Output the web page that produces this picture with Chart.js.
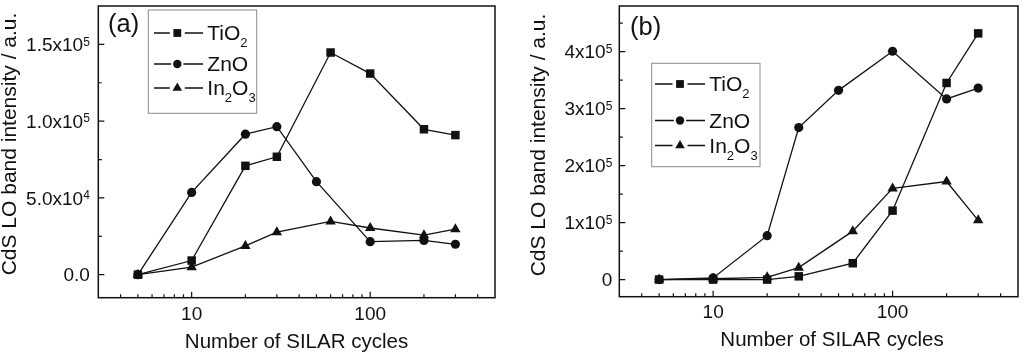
<!DOCTYPE html>
<html>
<head>
<meta charset="utf-8">
<script src="https://cdn.jsdelivr.net/npm/chart.js@4/dist/chart.umd.min.js"></script>
<style>
  html, body { margin: 0; padding: 0; background: #fff; }
  #wrap { position: relative; width: 1024px; height: 353px; }
  .panel { position: absolute; top: 0; width: 512px; height: 353px; }
</style>
</head>
<body>
<div id="wrap">
  <div class="panel" style="left:0"><canvas id="chartA" width="512" height="353"></canvas></div>
  <div class="panel" style="left:512px"><canvas id="chartB" width="512" height="353"></canvas></div>
</div>
<script>
// series names ('_' = subscript next char)
const seriesNames = ['TiO_2', 'ZnO', 'In_2O_3'];
const pointStyles = ['rect', 'circle', 'triangle'];
const pointSizes = [6, 4.6, 6];

// SILAR cycles per series
const cyclesTiO2 = [5, 10, 20, 30, 60, 100, 200, 300];
const cyclesZnO = [5, 10, 20, 30, 50, 100, 200, 300];
const cyclesIn2O3 = [5, 10, 20, 30, 60, 100, 200, 300];

// panel (a)
const aTiO2 = [0, 9200, 70900, 76800, 144700, 131000, 94700, 90900];
const aZnO = [0, 53600, 91500, 96400, 60600, 21500, 22300, 19800];
const aIn2O3 = [0, 4900, 18700, 27700, 34700, 30400, 25700, 29600];

// panel (b)
const bTiO2 = [0, 0, 0, 5700, 28700, 121000, 345000, 432000];
const bZnO = [0, 3000, 77000, 266700, 332000, 400600, 317000, 336000];
const bIn2O3 = [0, 1500, 4000, 21000, 85000, 160000, 172000, 104000];

// ticks ('^' = superscript next char)
const xMajorTicks = [10, 100];
const xTickLabels = ['10', '100'];
const xMinorTicks = [4, 5, 6, 7, 8, 9, 20, 30, 40, 50, 60, 70, 80, 90, 200, 300, 400];

const aYMajor = [0, 50000, 100000, 150000];
const aYLabels = ['0.0', '5.0x10^4', '1.0x10^5', '1.5x10^5'];
const aYMinor = [25000, 75000, 125000];

const bYMajor = [0, 100000, 200000, 300000, 400000];
const bYLabels = ['0', '1x10^5', '2x10^5', '3x10^5', '4x10^5'];
const bYMinor = [50000, 150000, 250000, 350000, 450000];

const xTitle = 'Number of SILAR cycles';
const yTitle = 'CdS LO band intensity / a.u.';

const FONT = "'Liberation Sans', Arial, sans-serif";
const INK = '#111';

function parseRich(str) {
  const parts = [];
  let buf = '';
  for (let i = 0; i < str.length; i++) {
    const c = str[i];
    if (c === '^' || c === '_') {
      if (buf) { parts.push({ t: buf, k: 'n' }); buf = ''; }
      parts.push({ t: str[i + 1], k: c === '^' ? 'sup' : 'sub' });
      i++;
    } else {
      buf += c;
    }
  }
  if (buf) parts.push({ t: buf, k: 'n' });
  return parts;
}

function richText(ctx, str, x, y, size, align) {
  const parts = parseRich(str);
  const small = Math.round(size * 0.63);
  let w = 0;
  parts.forEach(p => {
    ctx.font = (p.k === 'n' ? size : small) + 'px ' + FONT;
    p.w = ctx.measureText(p.t).width;
    w += p.w;
  });
  let cx = align === 'right' ? x - w : align === 'center' ? x - w / 2 : x;
  ctx.textAlign = 'left';
  ctx.textBaseline = 'alphabetic';
  parts.forEach(p => {
    ctx.font = (p.k === 'n' ? size : small) + 'px ' + FONT;
    const dy = p.k === 'sup' ? -size * 0.29 : p.k === 'sub' ? size * 0.34 : 0;
    ctx.fillText(p.t, cx, y + dy);
    cx += p.w;
  });
}

const panelPlugin = {
  id: 'panel',
  afterDraw(chart, args, o) {
    const ctx = chart.ctx;
    const a = chart.chartArea;
    const xs = chart.scales.x, ys = chart.scales.y;
    ctx.save();
    ctx.strokeStyle = INK;
    ctx.fillStyle = INK;

    // frame
    ctx.lineWidth = 1.5;
    ctx.strokeRect(a.left, a.top, a.right - a.left, a.bottom - a.top);

    // inward ticks
    ctx.lineWidth = 1.2;
    ctx.beginPath();
    xMajorTicks.forEach(v => { const p = xs.getPixelForValue(v); ctx.moveTo(p, a.bottom); ctx.lineTo(p, a.bottom - 6); });
    xMinorTicks.forEach(v => { const p = xs.getPixelForValue(v); ctx.moveTo(p, a.bottom); ctx.lineTo(p, a.bottom - 3.5); });
    o.yMajor.forEach(v => { const p = ys.getPixelForValue(v); ctx.moveTo(a.left, p); ctx.lineTo(a.left + 6, p); });
    o.yMinor.forEach(v => { const p = ys.getPixelForValue(v); ctx.moveTo(a.left, p); ctx.lineTo(a.left + 3.5, p); });
    ctx.stroke();

    // tick labels
    xMajorTicks.forEach((v, i) => richText(ctx, xTickLabels[i], xs.getPixelForValue(v), o.xLabelBase, 19, 'center'));
    o.yMajor.forEach((v, i) => richText(ctx, o.yLabels[i], a.left - o.yGap, ys.getPixelForValue(v) + 6.8, 19, 'right'));

    // axis titles
    richText(ctx, xTitle, o.xTitleX, o.xTitleBase, 20.5, 'center');
    ctx.save();
    ctx.translate(o.yTitleX, o.yTitleY);
    ctx.rotate(-Math.PI / 2);
    richText(ctx, yTitle, 0, 0, 21, 'center');
    ctx.restore();

    // panel tag
    richText(ctx, o.tag, o.tagX, o.tagY, 25.5, 'left');

    // legend
    const L = o.legend;
    ctx.strokeStyle = '#8a8a8a';
    ctx.lineWidth = 1;
    ctx.strokeRect(L.box[0], L.box[1], L.box[2] - L.box[0], L.box[3] - L.box[1]);
    ctx.strokeStyle = INK;
    seriesNames.forEach((name, i) => {
      const y = L.rows[i];
      const gap = pointSizes[i] + 1.5;
      ctx.lineWidth = 1.3;
      ctx.beginPath();
      ctx.moveTo(L.lineX[0], y);
      ctx.lineTo(L.markerX - gap, y);
      ctx.moveTo(L.markerX + gap, y);
      ctx.lineTo(L.lineX[1], y);
      ctx.stroke();
      Chart.helpers.drawPoint(ctx, { pointStyle: pointStyles[i], radius: pointSizes[i] * 0.92, borderWidth: 0, rotation: 0 }, L.markerX, y);
      richText(ctx, name, L.textX, y + 7.3, 21, 'left');
    });
    ctx.restore();
  }
};

function makeDatasets(vals) {
  const xsets = [cyclesTiO2, cyclesZnO, cyclesIn2O3];
  return vals.map((v, i) => ({
    label: seriesNames[i],
    data: xsets[i].map((c, j) => ({ x: c, y: v[j] })),
    borderColor: INK,
    backgroundColor: INK,
    borderWidth: 1.3,
    pointStyle: pointStyles[i],
    pointRadius: pointSizes[i],
    pointBackgroundColor: INK,
    pointBorderWidth: 0,
    tension: 0,
    clip: false
  }));
}

function makeChart(id, vals, yMin, yMax, padding, panelOpts) {
  return new Chart(document.getElementById(id), {
    type: 'line',
    data: { datasets: makeDatasets(vals) },
    options: {
      responsive: false,
      animation: false,
      events: [],
      layout: { padding },
      plugins: { legend: { display: false }, tooltip: { enabled: false }, panel: panelOpts },
      scales: {
        x: { type: 'logarithmic', min: 3, max: 500, display: false },
        y: { type: 'linear', min: yMin, max: yMax, display: false }
      }
    },
    plugins: [panelPlugin]
  });
}

makeChart('chartA', [aTiO2, aZnO, aIn2O3], -15000, 175000,
  { left: 98.3, right: 17, top: 1, bottom: 55.3 },
  {
    yMajor: aYMajor, yMinor: aYMinor, yLabels: aYLabels, yGap: 8.5,
    xLabelBase: 320, xTitleX: 296.5, xTitleBase: 347.7,
    yTitleX: 15.5, yTitleY: 144,
    tag: '(a)', tagX: 108, tagY: 31.5,
    legend: { box: [148.3, 10, 256.7, 113.3], rows: [33, 64, 88], lineX: [154, 203], markerX: 177.3, textX: 207.3 }
  });

makeChart('chartB', [bTiO2, bZnO, bIn2O3], -30000, 480000,
  { left: 107.3, right: 2.3, top: 1, bottom: 56.3 },
  {
    yMajor: bYMajor, yMinor: bYMinor, yLabels: bYLabels, yGap: 7,
    xLabelBase: 318.3, xTitleX: 320, xTitleBase: 346,
    yTitleX: 33.3, yTitleY: 145,
    tag: '(b)', tagX: 118, tagY: 35,
    legend: { box: [139.7, 63.3, 248, 166.7], rows: [84, 120.5, 145.5], lineX: [143, 193], markerX: 168, textX: 197.3 }
  });
</script>
</body>
</html>
